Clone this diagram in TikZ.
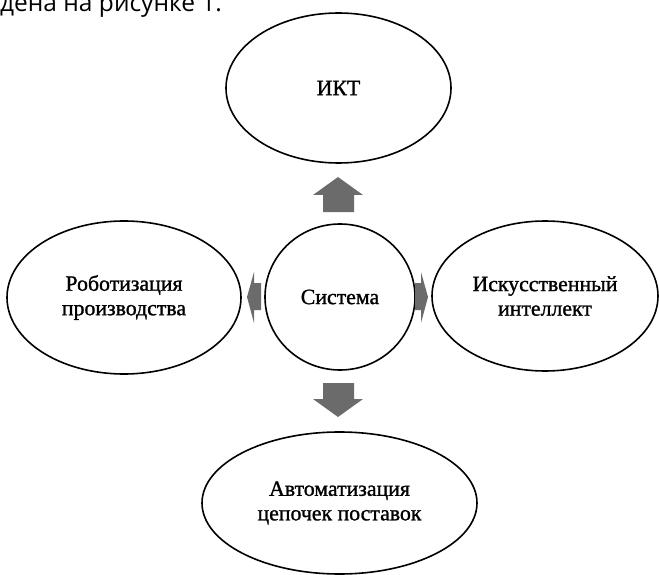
\documentclass[tikz,border=0pt]{standalone}
\usepackage{fontspec}
\setmainfont{Liberation Serif}
\newfontfamily\heavyserif[FakeBold=1.2]{Liberation Serif}
\newfontfamily\topsans{Open Sans}
\usetikzlibrary{shapes.geometric}
\begin{document}
\begin{tikzpicture}[x=1pt,y=1pt,
  oval/.style={draw=black, line width=1.6pt, ellipse, inner sep=0pt, align=center,
    font=\heavyserif\fontsize{21.8}{24.5}\selectfont},
  blockarrow/.style={fill=black!58, draw=none}]
\useasboundingbox (0,0) rectangle (659,-575);
\begin{scope}
\clip (0,0) rectangle (659,-575);
\node[anchor=base west, inner sep=0pt, font=\topsans\fontsize{24.5}{24.5}\selectfont] (caption) at (0,-12) {дена на рисунке 1.};
\end{scope}
\node[oval, minimum width=225pt, minimum height=150pt] (ikt) at (338.5,-88) {ИКТ};
\node[oval, minimum width=150pt, minimum height=146pt] (sys) at (340,-297) {Система};
\node[oval, minimum width=234pt, minimum height=153pt] (rob) at (124,-297.5) {Роботизация\\производства};
\node[oval, minimum width=226pt, minimum height=150pt] (ai) at (545,-296) {Искусственный\\интеллект};
\node[oval, minimum width=275pt, minimum height=142pt] (auto) at (339.5,-503) {Автоматизация\\цепочек поставок};
% block arrows
\fill[blockarrow] (323,-212) -- (323,-195) -- (313,-195) -- (338,-177) -- (363,-195) -- (354,-195) -- (354,-212) -- cycle;
\fill[blockarrow] (323,-383) -- (354,-383) -- (354,-399) -- (363,-399) -- (338,-417) -- (313,-399) -- (323,-399) -- cycle;
\fill[blockarrow] (261,-283) -- (254,-283) -- (254,-272) -- (247,-297) -- (254,-323) -- (254,-310) -- (261,-310) -- cycle;
\fill[blockarrow] (415,-283) -- (421,-283) -- (421,-272) -- (428,-297) -- (421,-323) -- (421,-310) -- (415,-310) -- cycle;
\end{tikzpicture}
\end{document}
